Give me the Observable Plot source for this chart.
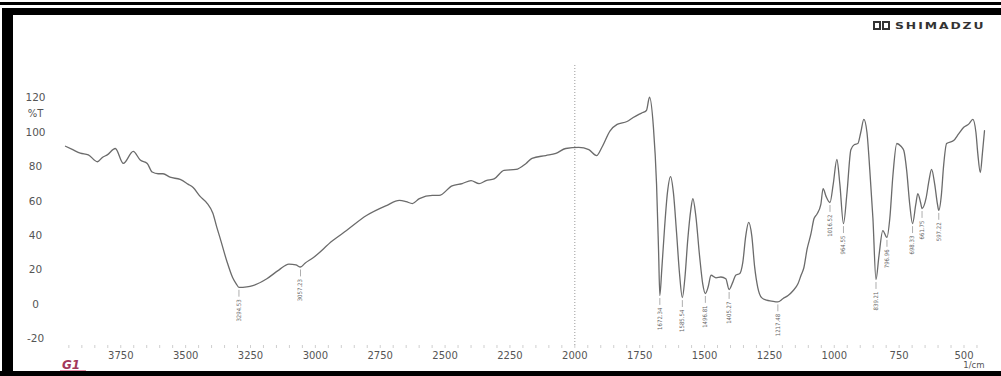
<!DOCTYPE html>
<html>
<head>
<meta charset="utf-8">
<script src="https://cdn.jsdelivr.net/npm/d3@7"></script>
<script src="https://cdn.jsdelivr.net/npm/@observablehq/plot@0.6"></script>
<style>
  html, body { margin: 0; padding: 0; background: #fff; }
  #page { position: relative; width: 1001px; height: 376px; overflow: hidden; background: #fff; }
  #page svg { position: absolute; left: 0; top: 0; }
  .band { position: absolute; background: #000; }
  #logo { position: absolute; left: 873px; top: 20px; display: flex; align-items: center; color: #333; }
  #logo .box { display: inline-block; width: 4px; height: 5px; border: 2px solid #333; margin-right: 1px; }
  #logo .name { display: inline-block; margin-left: 4px; font: bold 9.5px "DejaVu Sans", sans-serif; letter-spacing: 1.5px; transform: scaleX(1.3); transform-origin: left center; }
  #sample { position: absolute; left: 62px; top: 358px; font: italic bold 12px "DejaVu Sans", sans-serif; color: #a3375a; }
  #sample-rule { position: absolute; left: 60px; top: 370px; width: 26px; height: 1px; background: #e58aa4; }
</style>
</head>
<body>
<div id="page"></div>
<script>
// FTIR transmittance spectrum (wavenumber in 1/cm, transmittance in %T)
const wavenumber = [
  3963, 3935, 3906, 3875, 3840, 3821, 3802, 3771, 3740, 3702, 3675, 3648, 3629, 3606, 3587,
  3560, 3521, 3491, 3471, 3445, 3418, 3395, 3380, 3368, 3342, 3319, 3305, 3294.53, 3264, 3241,
  3187, 3141, 3102, 3075, 3057.23, 3040, 3010, 2934, 2880, 2803, 2726, 2676, 2650, 2626, 2599,
  2549, 2523, 2473, 2434, 2400, 2369, 2342, 2311, 2273, 2227, 2188, 2165, 2112, 2073, 2035,
  1985, 1946, 1916, 1896, 1864, 1837, 1799, 1775, 1743, 1724, 1712, 1697, 1685, 1677, 1672.34,
  1665, 1654, 1643, 1631, 1620, 1608, 1596.5, 1585.54, 1576, 1564.5, 1553, 1545, 1534, 1519, 1507,
  1496.81, 1486.5, 1475, 1456, 1437, 1418, 1405.27, 1391, 1380, 1364, 1353, 1341, 1330, 1318, 1307,
  1295, 1280, 1261, 1242, 1217.48, 1197, 1178, 1159, 1140, 1128, 1117, 1105, 1090, 1078, 1067,
  1052, 1043, 1032, 1016.52, 1004, 990, 978.5, 964.55, 951, 936, 922, 909, 898, 886, 874,
  863, 851, 839.21, 828, 813, 796.96, 786, 774, 759, 743, 732, 721, 709, 698.33, 686,
  678, 667, 661.75, 646, 635, 625, 613, 602, 597.22, 587, 579, 567, 540, 520, 501,
  481, 466, 454, 447, 437, 429, 421
];
const transmittance = [
  92, 90, 88, 87, 83, 85.5, 87, 90.7, 82, 89, 84, 82, 77, 76, 76,
  74, 72.7, 70, 68, 63, 59, 53, 45, 39, 25.6, 15.7, 12, 10, 10.3, 11,
  15, 20, 23.5, 23, 21.8, 24, 27, 37, 43, 51.7, 57.5, 60.5, 59.8, 58.7, 61.6,
  63.4, 63.4, 69, 70.3, 72, 70.3, 72, 73, 78, 78.5, 82, 85, 86.6, 87.8, 90.7,
  91.3, 90, 86.6, 91.3, 101, 104.7, 106.4, 108.7, 111.3, 112.8, 120.5, 103, 70, 30, 5.2,
  20, 44.8, 65, 74.4, 65, 42, 18, 4, 15, 38, 55, 61.6, 52, 28, 12,
  6.4, 10, 17, 15.5, 16, 15, 8.7, 13, 17, 18, 24, 40, 47.7, 40, 22,
  10, 4, 2.5, 2, 1.5, 3.5, 5.2, 8, 12, 17, 21.5, 32, 41, 50, 52.5,
  58, 67.4, 63, 59.3, 70, 84.3, 70, 47, 65, 90, 93, 93.6, 100, 107.6, 100,
  78, 50, 14.5, 28, 43, 39, 50, 75, 93.6, 92, 89.5, 78, 58, 47, 58,
  64.5, 59, 55.8, 62, 72, 78.5, 70, 58, 54.7, 64, 80, 93.6, 95.3, 99.4, 103,
  105, 107.6, 100, 88, 76.7, 88, 101
];

// Absorption bands picked as peaks
const peakWavenumbers = [
  3294.53, 3057.23, 1672.34, 1585.54, 1496.81, 1405.27, 1217.48,
  1016.52, 964.55, 839.21, 796.96, 698.33, 661.75, 597.22
];

const xTicks = [3750, 3500, 3250, 3000, 2750, 2500, 2250, 2000, 1750, 1500, 1250, 1000, 750, 500];
const yTicks = [120, 100, 80, 60, 40, 20, 0, -20];
const xMinorTicks = d3.range(3950, 420, -50);
const xDomain = [3963, 421];
const yDomain = [-23.84, 138.95];

const spectrum = wavenumber.map((w, i) => ({w, t: transmittance[i]}));
const peaks = peakWavenumbers.map(w => ({w, t: transmittance[wavenumber.indexOf(w)]}));

const chart = Plot.plot({
  width: 1001,
  height: 376,
  marginLeft: 65,
  marginRight: 17,
  marginTop: 65,
  marginBottom: 31,
  x: {domain: xDomain, axis: null},
  y: {domain: yDomain, axis: null},
  style: {background: "transparent", fontFamily: "'DejaVu Sans', sans-serif", color: "#555"},
  marks: [
    // 2000 1/cm divider
    Plot.ruleX([2000], {stroke: "#9a9a9a", strokeWidth: 1, strokeDasharray: "1,2"}),
    // faint minor ticks along the bottom
    Plot.axisX({ticks: xMinorTicks, tickSize: 3, tickFormat: () => "", stroke: "#cfcfcf", anchor: "bottom", label: null}),
    // wavenumber labels
    Plot.axisX({ticks: xTicks, tickSize: 0, tickPadding: 6, tickFormat: "d", fontSize: 10, fill: "#555", anchor: "bottom", label: null}),
    // transmittance labels
    Plot.text(yTicks, {y: d => d, text: d => String(d), frameAnchor: "left", dx: -30, textAnchor: "middle", fontSize: 10.5, fill: "#555"}),
    Plot.text(["%T"], {y: 111, text: d => d, frameAnchor: "left", dx: -30, textAnchor: "middle", fontSize: 10, fill: "#555"}),
    Plot.text(["1/cm"], {text: d => d, frameAnchor: "bottom-right", dy: 22, textAnchor: "end", fontSize: 8.5, fill: "#555"}),
    // spectrum
    Plot.line(spectrum, {x: "w", y: "t", stroke: "#6b6b6b", strokeWidth: 1.3, curve: "monotone-x"}),
    // peak markers and labels
    Plot.ruleX(peaks, {x: "w", y1: "t", y2: d => d.t - 4, dy: 3, stroke: "#999", strokeWidth: 0.8}),
    Plot.text(peaks, {x: "w", y: "t", text: d => d.w.toFixed(2), rotate: -90, textAnchor: "end", dy: 12,
      fontSize: 6, fontFamily: "'DejaVu Sans Condensed', 'DejaVu Sans', sans-serif", fill: "#666"})
  ]
});

const page = document.getElementById("page");
page.appendChild(chart);

// page frame, header logo and sample tag
const bands = [
  {left: 0, top: 2, width: 1001, height: 3},
  {left: 5, top: 8, width: 996, height: 7},
  {left: 2, top: 8, width: 11, height: 368},
  {left: 0, top: 371, width: 1001, height: 5}
];
for (const b of bands) {
  const el = document.createElement("div");
  el.className = "band";
  Object.assign(el.style, {left: b.left + "px", top: b.top + "px", width: b.width + "px", height: b.height + "px"});
  page.appendChild(el);
}
const logo = document.createElement("div");
logo.id = "logo";
logo.innerHTML = '<span class="box"></span><span class="box"></span><span class="name">SHIMADZU</span>';
page.appendChild(logo);
const sample = document.createElement("div");
sample.id = "sample";
sample.textContent = "G1";
page.appendChild(sample);
const rule = document.createElement("div");
rule.id = "sample-rule";
page.appendChild(rule);
</script>
</body>
</html>
